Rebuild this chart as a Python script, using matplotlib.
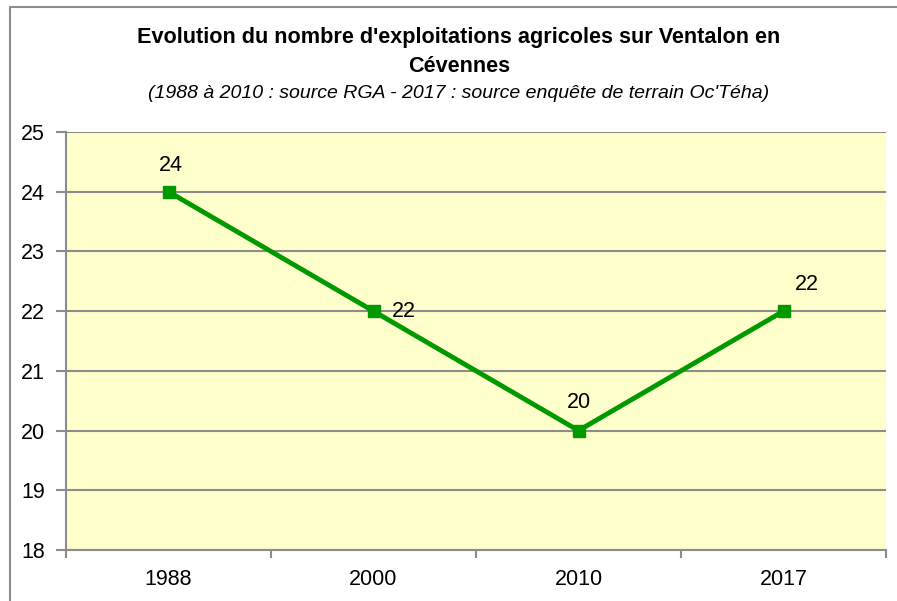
import matplotlib.pyplot as plt
from matplotlib.lines import Line2D

plt.rcParams['font.family'] = ['Liberation Sans', 'DejaVu Sans']

# -------------------------------
# DATA
# -------------------------------
years = ["1988", "2000", "2010", "2017"]
farms = [24, 22, 20, 22]
y_ticks = [18, 19, 20, 21, 22, 23, 24, 25]

W, H = 897, 601
fig = plt.figure(figsize=(W / 100, H / 100), dpi=100)
fig.patch.set_facecolor("white")

# outer chart border (only left and top visible in the crop)
fig.lines.append(Line2D([9.5 / W, 9.5 / W, 1], [0, 1 - 6.5 / H, 1 - 6.5 / H],
                        transform=fig.transFigure, color="#8c8c8c", linewidth=1.5))

# plot area in pixels
left, top, right, bottom = 66, 132, 886, 550
ax = fig.add_axes([left / W, 1 - bottom / H, (right - left) / W, (bottom - top) / H])
ax.set_facecolor("#ffffcc")

x = list(range(len(years)))
ax.plot(x, farms, color="#009900", linewidth=3.5, marker="s", markersize=9, zorder=3)

ax.set_xlim(-0.5, len(years) - 0.5)
ax.set_ylim(18, 25)
ax.set_yticks(y_ticks)
ax.set_yticklabels([str(v) for v in y_ticks], fontsize=15.5)
ax.set_xticks(x)
ax.set_xticklabels(years, fontsize=15.5)
ax.set_xticks([i - 0.5 for i in range(len(years) + 1)], minor=True)
ax.tick_params(axis="x", which="major", length=0, pad=14)
ax.tick_params(axis="x", which="minor", length=6, color="#8c8c8c", width=1.5)
ax.tick_params(axis="y", length=7, color="#8c8c8c", width=1.5, pad=8)

ax.grid(axis="y", color="#8c8c8c", linewidth=1.5)
ax.set_axisbelow(True)
for s in ["top", "right"]:
    ax.spines[s].set_visible(False)
for s in ["left", "bottom"]:
    ax.spines[s].set_color("#8c8c8c")
    ax.spines[s].set_linewidth(1.5)

# data labels
offsets = [(2, 19, "center"), (13, 0, "left"), (0, 20, "center"), (17, 19, "center")]
for xi, v, (dx, dy, ha) in zip(x, farms, offsets):
    ax.annotate(str(v), (xi, v), xytext=(dx, dy), textcoords="offset points",
                ha=ha, va="center", fontsize=15.5)

# titles
fig.text(459 / W, 1 - 38 / H, "Evolution du nombre d'exploitations agricoles sur Ventalon en",
         ha="center", va="center", fontsize=15.6, fontweight="bold")
fig.text(459 / W, 1 - 67 / H, "Cévennes", ha="center", va="center", fontsize=15.6, fontweight="bold")
fig.text(459 / W, 1 - 93 / H,
         "(1988 à 2010 : source RGA - 2017 : source enquête de terrain Oc'Téha)",
         ha="center", va="center", fontsize=14, style="italic")

plt.savefig("out.png", dpi=100)
